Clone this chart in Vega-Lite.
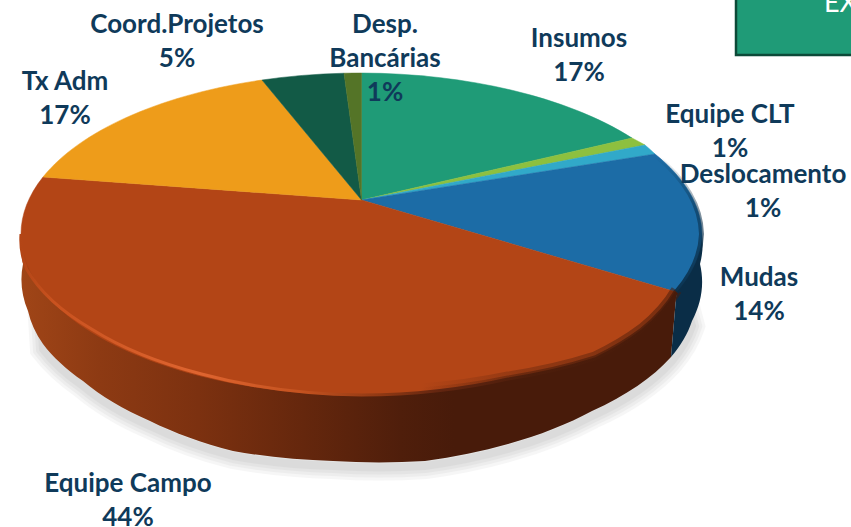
{
"$schema":"https://vega.github.io/schema/vega-lite/v6.json",
"width":851,"height":527,"padding":0,"autosize":{"type":"none"},
"background":"#ffffff",
"config":{"view":{"stroke":null},"axis":{"disable":true},"text":{"font":"Lato","fontWeight":"bold","fontSize":26,"color":"#0f3a5a","lineBreak":"\n","lineHeight":34,"align":"center","baseline":"middle"}},
"data":{"name":"slices","values":[
{"category":"Insumos","pct":17},
{"category":"Equipe CLT","pct":1},
{"category":"Deslocamento","pct":1},
{"category":"Mudas","pct":14},
{"category":"Equipe Campo","pct":44},
{"category":"Tx Adm","pct":17},
{"category":"Coord.Projetos","pct":5},
{"category":"Desp. Bancárias","pct":1}
]},
"transform":[{"calculate":"replace(datum.category,'. ','.\\n')+'\\n'+datum.pct+'%'","as":"label"}],
"encoding":{
"x":{"datum":361.5,"type":"quantitative","axis":null,"scale":{"domain":[0,851],"nice":false,"zero":false}},
"y":{"datum":234,"type":"quantitative","axis":null,"scale":{"domain":[0,527],"reverse":true,"nice":false,"zero":false}}
},
"layer":[
{"transform":[{"filter":"datum.category==='Equipe Campo'"}],
"layer":[
{"mark":{"type":"point","filled":false,"size":4,"opacity":0.03,"strokeWidth":26,"strokeCap":"butt","shape":"M-322,60 L-318.5,115 A340 161 0 0 0 -278.5,152 A340 161 0 0 0 -211.5,192 A340 161 0 0 0 -128.5,222 A340 161 0 0 0 -28.5,232 A340 161 0 0 0 63.5,232 A340 161 0 0 0 146.5,215 A340 161 0 0 0 230.5,182 A340 161 0 0 0 309.5,128 A340 161 0 0 0 330.5,92 L322,60","stroke":"#000000"}},
{"mark":{"type":"point","filled":false,"size":4,"opacity":0.03,"strokeWidth":20,"strokeCap":"butt","shape":"M-322,60 L-318.5,115 A340 161 0 0 0 -278.5,152 A340 161 0 0 0 -211.5,192 A340 161 0 0 0 -128.5,222 A340 161 0 0 0 -28.5,232 A340 161 0 0 0 63.5,232 A340 161 0 0 0 146.5,215 A340 161 0 0 0 230.5,182 A340 161 0 0 0 309.5,128 A340 161 0 0 0 330.5,92 L322,60","stroke":"#000000"}},
{"mark":{"type":"point","filled":false,"size":4,"opacity":0.03,"strokeWidth":14,"strokeCap":"butt","shape":"M-322,60 L-318.5,115 A340 161 0 0 0 -278.5,152 A340 161 0 0 0 -211.5,192 A340 161 0 0 0 -128.5,222 A340 161 0 0 0 -28.5,232 A340 161 0 0 0 63.5,232 A340 161 0 0 0 146.5,215 A340 161 0 0 0 230.5,182 A340 161 0 0 0 309.5,128 A340 161 0 0 0 330.5,92 L322,60","stroke":"#000000"}},
{"mark":{"type":"point","filled":false,"size":4,"opacity":0.03,"strokeWidth":8,"strokeCap":"butt","shape":"M-322,60 L-318.5,115 A340 161 0 0 0 -278.5,152 A340 161 0 0 0 -211.5,192 A340 161 0 0 0 -128.5,222 A340 161 0 0 0 -28.5,232 A340 161 0 0 0 63.5,232 A340 161 0 0 0 146.5,215 A340 161 0 0 0 230.5,182 A340 161 0 0 0 309.5,128 A340 161 0 0 0 330.5,92 L322,60","stroke":"#000000"}},
{"mark":{"type":"point","filled":true,"size":4,"opacity":1,"shape":"M-340,0 L-340,6 A340 161 0 0 0 -338.5,30 A340 161 0 0 0 -333.5,77 A340 161 0 0 0 -318.5,110 A340 161 0 0 0 -278.5,147 A340 161 0 0 0 -211.5,187 A340 161 0 0 0 -128.5,217 A340 161 0 0 0 -28.5,227 A340 161 0 0 0 63.5,227 A340 161 0 0 0 146.5,210 A340 161 0 0 0 230.5,177 A340 161 0 0 0 309.5,123 L315,58 Z",
"fill":{"x1":0,"y1":0,"x2":1,"y2":0,"gradient":"linear","stops":[{"offset":0,"color":"#a04517"},{"offset":0.12,"color":"#8d3a13"},{"offset":0.27,"color":"#7c3110"},{"offset":0.43,"color":"#65270d"},{"offset":0.58,"color":"#4f1e0b"},{"offset":0.66,"color":"#481b0a"},{"offset":1,"color":"#481b0a"}]}}}
]},
{"transform":[{"filter":"datum.category==='Mudas'"}],
"mark":{"type":"point","filled":true,"size":4,"opacity":1,"fill":"#0a2d47","shape":"M340.5,0 A340 161 0 0 1 338.5,30 A340 161 0 0 1 330.5,87 A340 161 0 0 1 309.5,123 L315,58 L300,0 Z"}},
{"mark":{"type":"point","filled":true,"size":4,"opacity":1,"strokeWidth":0.5},
"encoding":{
"shape":{"field":"category","type":"nominal","legend":null,"scale":{"domain":["Insumos","Equipe CLT","Deslocamento","Mudas","Equipe Campo","Tx Adm","Coord.Projetos","Desp. Bancárias"],
"range":[
"M0,-34 L0,-161 A340.5 161 0 0 1 270.5,-96 Z",
"M0,-34 L270.5,-96 A340.5 161 0 0 1 283.5,-89 Z",
"M0,-34 L283.5,-89 A340.5 161 0 0 1 293.5,-80 Z",
"M0,-34 L293.5,-80 A340.5 161 0 0 1 340.5,0 A340.5 161 0 0 1 315,58 Z",
"M0,-34 L315,58 A340.5 161 0 0 1 280.5,97 A340.5 161 0 0 1 233.5,125 A340.5 161 0 0 1 146.5,145 A340.5 161 0 0 1 0,161 A340.5 161 0 0 1 -340.5,0 A340.5 161 0 0 1 -318.5,-57 Z",
"M0,-34 L-318.5,-57 A340.5 161 0 0 1 -99.5,-154 Z",
"M0,-34 L-99.5,-154 A340.5 161 0 0 1 -17.5,-160.8 Z",
"M0,-34 L-17.5,-160.8 A340.5 161 0 0 1 0,-161 Z"]}},
"fill":{"field":"category","type":"nominal","legend":null,"scale":{"domain":["Insumos","Equipe CLT","Deslocamento","Mudas","Equipe Campo","Tx Adm","Coord.Projetos","Desp. Bancárias"],"range":["#1f9b77","#8dc03f","#31a9c9","#1c6ca6","#b34516","#ee9c1a","#125a46","#547427"]}},
"stroke":{"field":"category","type":"nominal","legend":null,"scale":{"domain":["Insumos","Equipe CLT","Deslocamento","Mudas","Equipe Campo","Tx Adm","Coord.Projetos","Desp. Bancárias"],"range":["#1f9b77","#8dc03f","#31a9c9","#1c6ca6","#b34516","#ee9c1a","#125a46","#547427"]}}
}},
{"transform":[{"filter":"datum.category==='Equipe Campo'"}],
"layer":[
{"mark":{"type":"point","filled":false,"size":4,"opacity":1,"strokeWidth":11,"strokeCap":"butt","shape":"M315,56 A340.5 161 0 0 1 280.5,95 A340.5 161 0 0 1 233.5,123 A340.5 161 0 0 1 146.5,143 A340.5 161 0 0 1 60,155",
"stroke":{"x1":0,"y1":0,"x2":1,"y2":0,"gradient":"linear","stops":[{"offset":0,"color":"rgba(72,27,10,0)"},{"offset":0.4,"color":"rgba(72,27,10,0.3)"},{"offset":1,"color":"rgba(72,27,10,0.55)"}]}}},
{"mark":{"type":"point","filled":false,"size":4,"opacity":1,"strokeWidth":5,"strokeCap":"butt","shape":"M315,57 A340.5 161 0 0 1 280.5,96 A340.5 161 0 0 1 233.5,124 A340.5 161 0 0 1 146.5,144 A340.5 161 0 0 1 60,156",
"stroke":{"x1":0,"y1":0,"x2":1,"y2":0,"gradient":"linear","stops":[{"offset":0,"color":"rgba(72,27,10,0)"},{"offset":0.4,"color":"rgba(72,27,10,0.5)"},{"offset":1,"color":"rgba(72,27,10,0.8)"}]}}},
{"mark":{"type":"point","filled":false,"size":4,"opacity":1,"strokeWidth":3,"strokeCap":"butt","shape":"M-340.5,0 A340.5 161 0 0 0 -335,35 A340.5 161 0 0 0 -270,95 A340.5 161 0 0 0 -160,140 A340.5 161 0 0 0 0,161 A340.5 161 0 0 0 146.5,145 A340.5 161 0 0 0 233.5,125 A340.5 161 0 0 0 280.5,97 A340.5 161 0 0 0 315,58",
"stroke":{"x1":0,"y1":0,"x2":1,"y2":0,"gradient":"linear","stops":[{"offset":0,"color":"#b34516"},{"offset":0.05,"color":"#c9521f"},{"offset":0.27,"color":"#df6530"},{"offset":0.43,"color":"#c4521f"},{"offset":0.55,"color":"#8f3813"},{"offset":0.64,"color":"#622510"},{"offset":0.78,"color":"#4c1d0b"},{"offset":1,"color":"#481b0a"}]}}}
]},
{"transform":[{"filter":"datum.category==='Mudas'"}],
"mark":{"type":"point","filled":false,"size":4,"opacity":1,"strokeWidth":5,"strokeCap":"butt","shape":"M295,-78 A340.5 161 0 0 1 340,0 A340.5 161 0 0 1 315,58",
"stroke":{"x1":0,"y1":0,"x2":0,"y2":1,"gradient":"linear","stops":[{"offset":0,"color":"rgba(10,45,71,0)"},{"offset":0.4,"color":"rgba(10,45,71,0.5)"},{"offset":1,"color":"rgba(10,45,71,0.9)"}]}}},
{"data":{"values":[{"title":"EX"}]},
"layer":[
{"mark":{"type":"rect","fill":"#1f9b77","stroke":"#0c4a38","strokeWidth":2.5},
"encoding":{"x":{"datum":736,"type":"quantitative","axis":null},"x2":{"datum":880},"y":{"datum":-6,"type":"quantitative","axis":null},"y2":{"datum":55}}},
{"mark":{"type":"text","font":"Lato","fontWeight":"normal","fontSize":27,"color":"#ffffff","align":"left","baseline":"alphabetic"},
"encoding":{"x":{"datum":824,"type":"quantitative","axis":null},"y":{"datum":12,"type":"quantitative","axis":null},"text":{"field":"title"}}}
]},
{"encoding":{"text":{"field":"label"}},
"layer":[
{"mark":"text","transform":[{"filter":"datum.category==='Insumos'"}],"encoding":{"x":{"datum":579,"type":"quantitative","axis":null},"y":{"datum":39,"type":"quantitative","axis":null}}},
{"mark":"text","transform":[{"filter":"datum.category==='Equipe CLT'"}],"encoding":{"x":{"datum":730,"type":"quantitative","axis":null},"y":{"datum":115,"type":"quantitative","axis":null}}},
{"mark":"text","transform":[{"filter":"datum.category==='Deslocamento'"}],"encoding":{"x":{"datum":763,"type":"quantitative","axis":null},"y":{"datum":175,"type":"quantitative","axis":null}}},
{"mark":"text","transform":[{"filter":"datum.category==='Mudas'"}],"encoding":{"x":{"datum":759,"type":"quantitative","axis":null},"y":{"datum":278,"type":"quantitative","axis":null}}},
{"mark":"text","transform":[{"filter":"datum.category==='Equipe Campo'"}],"encoding":{"x":{"datum":128,"type":"quantitative","axis":null},"y":{"datum":484,"type":"quantitative","axis":null}}},
{"mark":"text","transform":[{"filter":"datum.category==='Tx Adm'"}],"encoding":{"x":{"datum":65,"type":"quantitative","axis":null},"y":{"datum":82,"type":"quantitative","axis":null}}},
{"mark":"text","transform":[{"filter":"datum.category==='Coord.Projetos'"}],"encoding":{"x":{"datum":177,"type":"quantitative","axis":null},"y":{"datum":25,"type":"quantitative","axis":null}}},
{"mark":"text","transform":[{"filter":"datum.category==='Desp. Bancárias'"}],"encoding":{"x":{"datum":385,"type":"quantitative","axis":null},"y":{"datum":25,"type":"quantitative","axis":null}}}
]}
]
}
